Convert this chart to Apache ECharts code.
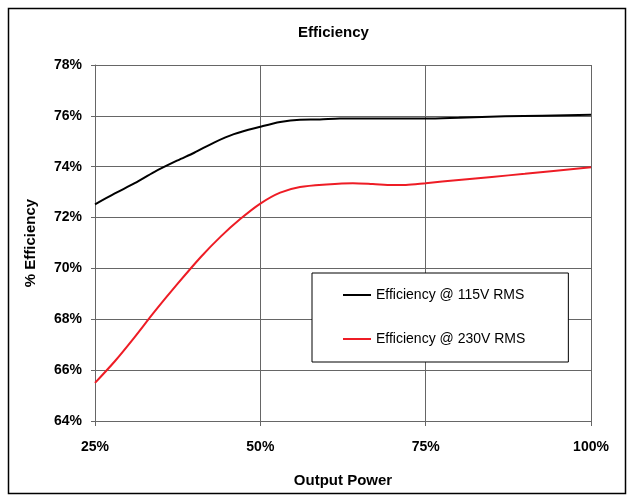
<!DOCTYPE html>
<html>
<head>
<meta charset="utf-8">
<script src="https://cdn.jsdelivr.net/npm/echarts@6/dist/echarts.min.js"></script>
<style>html,body{margin:0;padding:0;background:#fff}#c{width:634px;height:502px}</style>
</head>
<body>
<div id="c"></div>
<script>
const seriesNames = ['Efficiency @ 115V RMS', 'Efficiency @ 230V RMS'];
const xTicks = [25, 50, 75, 100];
const yTicks = [64, 66, 68, 70, 72, 74, 76, 78];
const load115 = [25, 28, 31, 34, 37.5, 40, 43, 46, 50, 53, 56, 59, 62, 75, 80, 87, 100];
const eff115 = [72.52, 72.95, 73.35, 73.8, 74.25, 74.55, 74.95, 75.28, 75.57, 75.76, 75.85, 75.86, 75.9, 75.9, 75.93, 75.98, 76.04];
const load230 = [25, 28, 31, 34, 37.5, 41, 44, 47, 50, 53, 56, 60, 64, 67, 70, 72, 75, 80, 85, 90, 100];
const eff230 = [65.5, 66.35, 67.3, 68.3, 69.4, 70.45, 71.25, 71.95, 72.55, 72.98, 73.2, 73.3, 73.35, 73.32, 73.28, 73.28, 73.35, 73.48, 73.6, 73.72, 73.98];

const pairs = (xs, ys) => xs.map((x, i) => [x, ys[i]]);
const font = 'Liberation Sans, Arial, sans-serif';
const chart = echarts.init(document.getElementById('c'), null, {renderer: 'canvas'});
chart.setOption({
  animation: false,
  backgroundColor: '#fff',
  textStyle: {fontFamily: font},
  title: {
    text: 'Efficiency', left: 293, top: 20,
    textStyle: {fontSize: 15, fontWeight: 'bold', color: '#000', fontFamily: font}
  },
  graphic: [{
    type: 'rect', silent: true, z: -1,
    shape: {x: 8.5, y: 8.5, width: 617, height: 485},
    style: {fill: 'none', stroke: '#000', lineWidth: 1.5}
  }],
  legend: {
    orient: 'vertical', left: 312, top: 273,
    padding: [15, 43, 16, 31],
    icon: 'rect',
    itemWidth: 28, itemHeight: 2, itemGap: 30,
    backgroundColor: '#fff', borderColor: '#000', borderWidth: 1,
    textStyle: {fontSize: 14, color: '#000', fontFamily: font},
    data: seriesNames
  },
  grid: {left: 95, right: 43, top: 65, bottom: 81, containLabel: false},
  xAxis: {
    type: 'value', min: xTicks[0], max: xTicks[xTicks.length - 1], interval: 25,
    name: 'Output Power', nameLocation: 'middle', nameGap: 52,
    nameTextStyle: {fontSize: 15, fontWeight: 'bold', color: '#000', fontFamily: font},
    axisLine: {lineStyle: {color: '#666', width: 1}},
    axisTick: {show: true, length: 5, lineStyle: {color: '#666'}},
    axisLabel: {margin: 19, fontSize: 14, fontWeight: 'bold', color: '#000', formatter: v => v + '%'},
    splitLine: {show: true, lineStyle: {color: '#666', width: 1}}
  },
  yAxis: {
    type: 'value', min: yTicks[0], max: yTicks[yTicks.length - 1], interval: 2,
    name: '% Efficiency', nameLocation: 'middle', nameGap: 57,
    nameTextStyle: {fontSize: 15, fontWeight: 'bold', color: '#000', fontFamily: font},
    axisLine: {show: true, lineStyle: {color: '#666', width: 1}},
    axisTick: {show: true, length: 4, lineStyle: {color: '#666'}},
    axisLabel: {margin: 13, fontSize: 14, fontWeight: 'bold', color: '#000', formatter: v => v + '%'},
    splitLine: {show: true, lineStyle: {color: '#666', width: 1}}
  },
  series: [
    {name: seriesNames[0], type: 'line', data: pairs(load115, eff115), symbol: 'none', smooth: 0.3,
     lineStyle: {color: '#000', width: 2}, itemStyle: {color: '#000'}},
    {name: seriesNames[1], type: 'line', data: pairs(load230, eff230), symbol: 'none', smooth: 0.3,
     lineStyle: {color: '#ee1c25', width: 2}, itemStyle: {color: '#ee1c25'}}
  ]
});
</script>
</body>
</html>
